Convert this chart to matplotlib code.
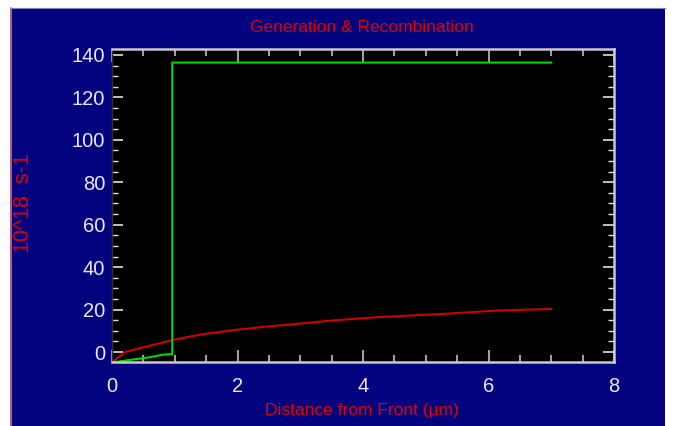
import matplotlib
matplotlib.use("Agg")
import matplotlib.pyplot as plt
from matplotlib.patches import Rectangle
from matplotlib.ticker import MultipleLocator

# Distance from front (um) and rates (10^18 s-1)
red_x = [0.0, 0.21, 0.45, 0.96, 1.4, 1.93, 2.47, 3.0, 3.52, 4.27, 5.18, 6.18, 7.0]
red_y = [-4.7, 0.0, 1.9, 5.6, 8.2, 10.3, 12.0, 13.4, 14.9, 16.5, 17.8, 19.6, 20.3]

green_x = [0.0, 0.08, 0.34, 0.6, 0.82, 0.96, 0.96, 7.0]
green_y = [-4.7, -4.6, -3.5, -2.5, -1.2, -1.0, 136.4, 136.4]

title_text = "Generation & Recombination"
xlabel_text = "Distance from Front (\u00b5m)"
ylabel_text = "10^18  s-1"

W, H = 675, 426
fig = plt.figure(figsize=(W / 100, H / 100), dpi=100, facecolor="white")

navy = "#03037F"
fig.patches.append(Rectangle((10 / W, 0), 655 / W, 418 / H, transform=fig.transFigure,
                             facecolor=navy, edgecolor="none", zorder=-10))
fig.lines.append(plt.Line2D([10.5 / W, 10.5 / W], [0, 418 / H], transform=fig.transFigure,
                            color="#E07070", lw=1.2))
fig.lines.append(plt.Line2D([10 / W, 665 / W], [418.5 / H, 418.5 / H], transform=fig.transFigure,
                            color="#8080C0", lw=0.8))

ax = fig.add_axes([112 / W, 1 - 362 / H, (614 - 112) / W, (362 - 49) / H])
ax.set_facecolor("black")

ax.plot(red_x, red_y, color="#D00000", lw=1.5, solid_joinstyle="miter")
ax.plot(green_x, green_y, color="#00D800", lw=1.5, solid_joinstyle="miter")

ax.set_xlim(0, 8)
ax.set_ylim(-4.7, 142.8)
ax.xaxis.set_major_locator(MultipleLocator(2))
ax.xaxis.set_minor_locator(MultipleLocator(0.5))
ax.yaxis.set_major_locator(MultipleLocator(20))
ax.yaxis.set_minor_locator(MultipleLocator(5))

label_color = "#E8E8FF"
ax.tick_params(axis="both", which="both", direction="in", top=True, right=True,
               colors="#A0A0A0", labelcolor=label_color, labelsize=14.5)
ax.tick_params(axis="x", which="major", length=9, width=1.5, pad=11)
ax.tick_params(axis="x", which="minor", length=5, width=1.5)
ax.tick_params(axis="y", which="major", length=8, width=1.2, pad=5, colors="#E0E0E0",
               labelcolor=label_color)
ax.tick_params(axis="y", which="minor", length=4, width=1.0, colors="#E0E0E0")
for lab in ax.get_xticklabels() + ax.get_yticklabels():
    lab.set_fontfamily("Liberation Sans")

for side in ("bottom", "top", "right"):
    ax.spines[side].set_color("#C8C8C8")
    ax.spines[side].set_linewidth(1.8)
ax.spines["left"].set_color("#303030")
ax.spines["left"].set_linewidth(1.0)

red_text = "#E00000"
fig.text(362 / W, 1 - 28 / H, title_text, color=red_text, fontsize=12.5,
         family="Liberation Sans", ha="center", va="center")
fig.text(362 / W, 1 - 410 / H, xlabel_text, color=red_text, fontsize=12.5,
         family="Liberation Sans", ha="center", va="center")
fig.text(24 / W, 1 - 203 / H, ylabel_text, color=red_text, fontsize=15.5,
         family="Liberation Sans", ha="center", va="center", rotation=90)

fig.savefig("out.png", dpi=100, facecolor="white")
